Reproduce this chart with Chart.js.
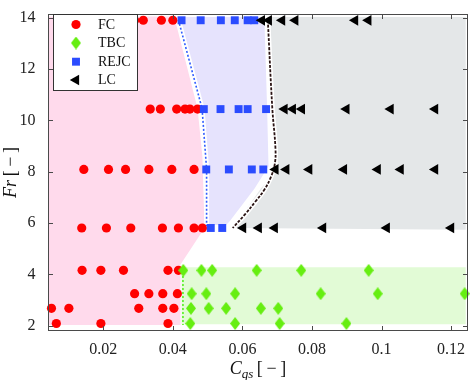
<!DOCTYPE html>
<html>
<head>
<meta charset="utf-8">
<script src="https://cdn.jsdelivr.net/npm/chart.js@4.4.1/dist/chart.umd.min.js"></script>
<style>
  html, body { margin: 0; padding: 0; background: #fff; }
  #regimeChart { display: block; }
</style>
</head>
<body>
<canvas id="regimeChart" width="474" height="380"></canvas>
<script>
// Fr levels (rows of runs) and Cqs of each run per regime
const frLevels = [13.9, 10.44, 8.09, 5.81, 4.16, 3.25, 2.68, 2.09];

const fcCqs = [
  [0.029, 0.0315, 0.0367, 0.040],
  [0.0335, 0.0364, 0.0411, 0.0435, 0.0449, 0.0471],
  [0.0144, 0.0215, 0.0264, 0.0331, 0.0397, 0.0461],
  [0.0138, 0.0209, 0.0279, 0.037, 0.0416, 0.0461, 0.0485],
  [0.0139, 0.0193, 0.0258, 0.0386, 0.0416],
  [0.029, 0.0331, 0.0371, 0.0413],
  [0.0051, 0.0101, 0.0302, 0.0371, 0.0403],
  [0.0065, 0.0193, 0.0386]
];
const tbcCqs = [
  [], [], [], [],
  [0.043, 0.0482, 0.0513, 0.0641, 0.0769, 0.0963],
  [0.0454, 0.0496, 0.0579, 0.0825, 0.0989, 0.1239],
  [0.0452, 0.0503, 0.0553, 0.0653, 0.0703],
  [0.045, 0.0579, 0.0707, 0.0899]
];
const rejcCqs = [
  [0.0425, 0.048, 0.0538, 0.0578, 0.0615, 0.0634],
  [0.0489, 0.0537, 0.0589, 0.0615, 0.0668],
  [0.0496, 0.0561, 0.0627, 0.066],
  [0.0509, 0.0542],
  [], [], [], []
];
const lcCqs = [
  [0.0656, 0.0676, 0.0714, 0.0752, 0.0924, 0.0962],
  [0.0721, 0.0745, 0.0771, 0.0899, 0.1026, 0.1154],
  [0.0695, 0.0726, 0.0792, 0.0892, 0.0989, 0.1055, 0.1154],
  [0.0602, 0.0647, 0.0693, 0.0832, 0.1015, 0.12],
  [], [], [], []
];

// shaded regime regions (Cqs, Fr corners)
const fcRegionCqs = [0.0041, 0.0404, 0.0471, 0.0485, 0.0491, 0.0422, 0.0422, 0.0041];
const fcRegionFr = [14.05, 14.05, 10.46, 8.59, 5.81, 4.39, 2.03, 2.03];
const rejcRegionCqs = [0.0413, 0.0663, 0.0671, 0.0675, 0.0635, 0.0564, 0.0553, 0.0501, 0.05, 0.0483];
const rejcRegionFr = [14.03, 14.03, 10.46, 8.21, 7.35, 6.08, 5.93, 5.93, 8.59, 10.46];
const lcRegionCqs = [0.068, 0.1242, 0.1242, 0.0578, 0.0607, 0.0653, 0.0706, 0.0693, 0.0686];
const lcRegionFr = [14.03, 14.03, 5.74, 5.81, 6.45, 7.35, 8.14, 8.85, 10.46];
const tbcRegionCqs = [0.0425, 0.1242, 0.1242, 0.0425];
const tbcRegionFr = [4.28, 4.28, 2.06, 2.06];

// regime boundaries
const fcBoundCqs = [0.0416, 0.0484, 0.0497, 0.0497];
const fcBoundFr = [13.91, 10.46, 8.1, 5.89];
const lcBoundCqs = [0.0673, 0.0686, 0.0695, 0.0693, 0.0682, 0.0663, 0.0638, 0.0608, 0.0572];
const lcBoundFr = [13.91, 10.46, 8.9, 8.3, 7.8, 7.3, 6.85, 6.35, 5.81];
const tbcBoundCqs = [0.0429, 0.0429];
const tbcBoundFr = [4.25, 2.03];

const xTicks = [0.02, 0.04, 0.06, 0.08, 0.1, 0.12];
const yTicks = [2, 4, 6, 8, 10, 12, 14];

const serif = "'Liberation Serif', 'DejaVu Serif', serif";

function toPoints(xs, ys) {
  return xs.map((x, i) => ({ x: x, y: ys[i] }));
}

function runPoints(rows) {
  const pts = [];
  rows.forEach((row, i) => {
    row.forEach((c) => pts.push({ x: c, y: frLevels[i] }));
  });
  return pts;
}

function makeDiamond(w, h, color) {
  const c = document.createElement("canvas");
  c.width = w;
  c.height = h;
  const g = c.getContext("2d");
  g.fillStyle = color;
  g.beginPath();
  g.moveTo(w / 2, 0);
  g.lineTo(w, h / 2);
  g.lineTo(w / 2, h);
  g.lineTo(0, h / 2);
  g.closePath();
  g.fill();
  return c;
}

const diamond = makeDiamond(10, 13, "#66ee11");

function region(xs, ys, color) {
  return {
    data: toPoints(xs, ys),
    showLine: true,
    fill: "shape",
    backgroundColor: color,
    borderColor: "rgba(0,0,0,0)",
    borderWidth: 1,
    pointRadius: 0,
    order: 20
  };
}

function boundary(xs, ys, color, width, dash, tension, order) {
  return {
    data: toPoints(xs, ys),
    showLine: true,
    fill: false,
    borderColor: color,
    borderWidth: width,
    borderDash: dash,
    tension: tension,
    pointRadius: 0,
    order: order
  };
}

const series = [
  { label: "FC", data: runPoints(fcCqs), pointStyle: "circle", pointRadius: 4.6, pointRotation: 0, pointBackgroundColor: "#ff0000", order: 4 },
  { label: "TBC", data: runPoints(tbcCqs), pointStyle: diamond, pointRadius: 6, pointRotation: 0, pointBackgroundColor: "#66ee11", order: 3 },
  { label: "REJC", data: runPoints(rejcCqs), pointStyle: "rect", pointRadius: 5.6, pointRotation: 0, pointBackgroundColor: "#2b4cff", order: 2 },
  { label: "LC", data: runPoints(lcCqs), pointStyle: "triangle", pointRadius: 6.2, pointRotation: -90, pointBackgroundColor: "#000000", order: 1 }
];
series.forEach((s) => {
  s.showLine = false;
  s.pointBorderWidth = 0;
  s.pointBorderColor = "rgba(0,0,0,0)";
  s.clip = false;
});

const framePlugin = {
  id: "frame",
  afterDraw(chart) {
    const ctx = chart.ctx;
    const a = chart.chartArea;
    const xs = chart.scales.x;
    const ys = chart.scales.y;
    const l = Math.round(a.left) + 0.5, r = Math.round(a.right) - 0.5;
    const t = Math.round(a.top) + 0.5, b = Math.round(a.bottom) - 0.5;
    ctx.save();
    ctx.strokeStyle = "#4a4a4a";
    ctx.lineWidth = 1;
    ctx.strokeRect(l, t, r - l, b - t);
    ctx.beginPath();
    xTicks.forEach((v) => {
      const px = Math.round(xs.getPixelForValue(v)) + 0.5;
      ctx.moveTo(px, b); ctx.lineTo(px, b - 4.5);
      ctx.moveTo(px, t); ctx.lineTo(px, t + 4.5);
    });
    yTicks.forEach((v) => {
      const py = Math.round(ys.getPixelForValue(v)) + 0.5;
      ctx.moveTo(l, py); ctx.lineTo(l + 4.5, py);
      ctx.moveTo(r, py); ctx.lineTo(r - 4.5, py);
    });
    ctx.stroke();

    // legend
    const lx = 53.5, ly = 14.5, lw = 84, lh = 76;
    ctx.fillStyle = "#ffffff";
    ctx.fillRect(lx, ly, lw, lh);
    ctx.strokeStyle = "#333333";
    ctx.strokeRect(lx, ly, lw, lh);
    const rowsY = [24.5, 43, 61.7, 80];
    ctx.font = "14px " + serif;
    ctx.textBaseline = "middle";
    ctx.textAlign = "left";
    series.forEach((s, i) => {
      const opts = { pointStyle: s.pointStyle, radius: s.pointRadius, rotation: s.pointRotation, borderWidth: 0 };
      ctx.fillStyle = s.pointBackgroundColor;
      ctx.strokeStyle = "rgba(0,0,0,0)";
      Chart.helpers.drawPoint(ctx, opts, 76, rowsY[i]);
      ctx.fillStyle = "#111";
      ctx.fillText(s.label, 98, rowsY[i] + 0.5);
    });

    // axis titles
    drawPieces(ctx, [
      { text: "C", font: "italic 18px " + serif, dy: 0 },
      { text: "qs", font: "italic 13px " + serif, dy: 3.5 },
      { text: "\u2009[\u2009\u2212\u2009]", font: "18px " + serif, dy: 0 }
    ], (a.left + a.right) / 2, 374);

    ctx.save();
    ctx.translate(16, (a.top + a.bottom) / 2);
    ctx.rotate(-Math.PI / 2);
    drawPieces(ctx, [
      { text: "Fr", font: "italic 18px " + serif, dy: 0 },
      { text: "\u2009[\u2009\u2212\u2009]", font: "18px " + serif, dy: 0 }
    ], 0, 0);
    ctx.restore();
    ctx.restore();
  }
};

function drawPieces(ctx, pieces, cx, baseY) {
  let total = 0;
  pieces.forEach((p) => {
    ctx.font = p.font;
    p.w = ctx.measureText(p.text).width;
    total += p.w;
  });
  let x = cx - total / 2;
  ctx.fillStyle = "#111";
  ctx.textBaseline = "alphabetic";
  ctx.textAlign = "left";
  pieces.forEach((p) => {
    ctx.font = p.font;
    ctx.fillText(p.text, x, baseY + p.dy);
    x += p.w;
  });
}

const ctx = document.getElementById("regimeChart").getContext("2d");

new Chart(ctx, {
  type: "scatter",
  data: {
    datasets: [
      region(fcRegionCqs, fcRegionFr, "#ffdaec"),
      region(rejcRegionCqs, rejcRegionFr, "#e6e3fd"),
      region(lcRegionCqs, lcRegionFr, "#e4e7e8"),
      region(tbcRegionCqs, tbcRegionFr, "#e2fbd6"),
      boundary(fcBoundCqs, fcBoundFr, "#ffffff", 5, [], 0, 15),
      boundary(lcBoundCqs, lcBoundFr, "#ffffff", 5, [], 0.4, 15),
      boundary(fcBoundCqs, fcBoundFr, "#2f5cff", 1.6, [2, 2], 0, 10),
      boundary(lcBoundCqs, lcBoundFr, "#2a1414", 1.8, [3, 1.5], 0.4, 10),
      boundary(tbcBoundCqs, tbcBoundFr, "#55ee22", 1.6, [2, 2], 0, 10)
    ].concat(series)
  },
  options: {
    responsive: false,
    animation: false,
    layout: { padding: { top: 2, right: 1.5, left: 0, bottom: 0 } },
    plugins: {
      legend: { display: false },
      tooltip: { enabled: false }
    },
    scales: {
      x: {
        type: "linear",
        min: 0.0041,
        max: 0.1248,
        grid: { display: false },
        border: { display: false },
        ticks: {
          font: { family: serif, size: 16 },
          color: "#222",
          padding: 1,
          maxRotation: 0,
          autoSkip: false,
          callback: (v) => String(v)
        },
        afterBuildTicks: (s) => { s.ticks = xTicks.map((v) => ({ value: v })); },
        afterFit: (s) => { s.height = 49.3; }
      },
      y: {
        type: "linear",
        min: 1.81,
        max: 14.14,
        grid: { display: false },
        border: { display: false },
        ticks: {
          font: { family: serif, size: 16 },
          color: "#222",
          padding: 4.5,
          autoSkip: false,
          callback: (v) => String(v)
        },
        afterBuildTicks: (s) => { s.ticks = yTicks.map((v) => ({ value: v })); },
        afterFit: (s) => { s.width = 48; }
      }
    }
  },
  plugins: [framePlugin]
});
</script>
</body>
</html>
